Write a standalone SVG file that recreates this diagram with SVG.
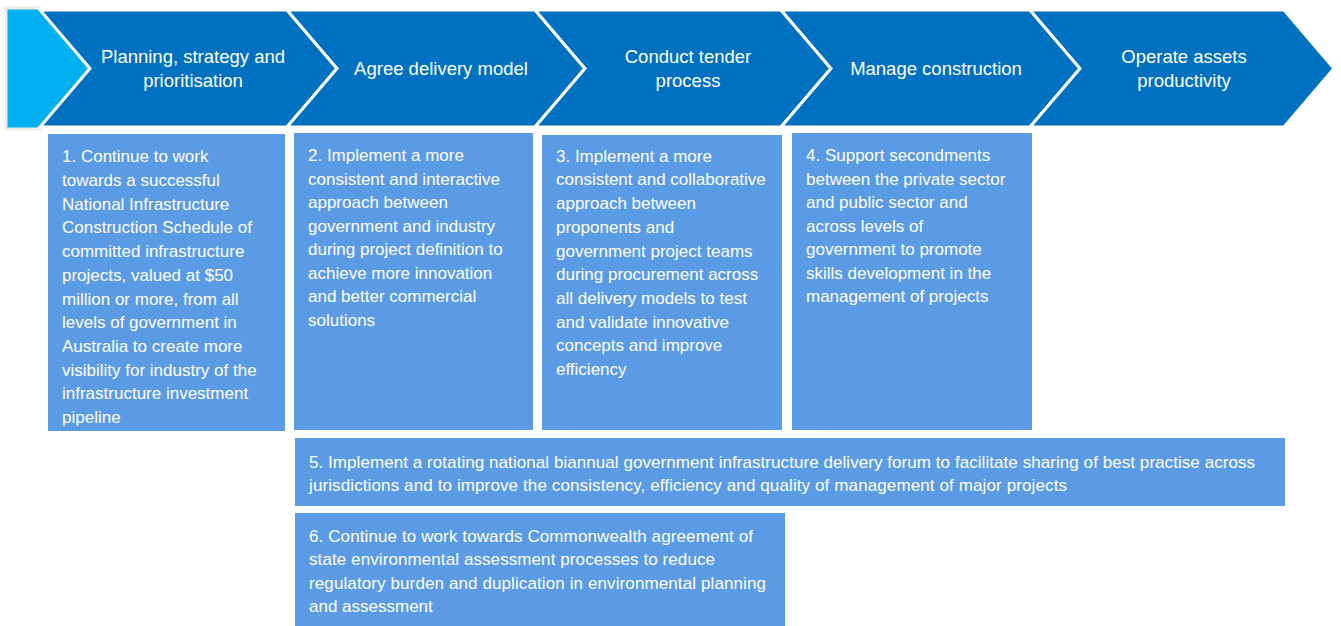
<svg xmlns="http://www.w3.org/2000/svg" width="1341" height="626" viewBox="0 0 1341 626">
<style>
.chev{fill:#0070C0;stroke:#FFFFFF;stroke-width:3;stroke-linejoin:miter}
.hd{font-family:"Liberation Sans",Arial,sans-serif;font-size:18.5px;fill:#FFFFFF;text-anchor:middle}
.box{fill:#5B9BE5}
.bt{font-family:"Liberation Sans",Arial,sans-serif;font-size:17px;fill:#FFFFFF}
</style>
<rect width="1341" height="626" fill="#FFFFFF"/>
<g id="start">
<polygon points="6,8 40,8 90,68.5 40,129 6,129" fill="#00B0F0" stroke="#EEECE1" stroke-width="3"/>
</g>
<g id="connectors"></g>
<g id="step1">
<polygon class="chev" points="40,10 287,10 337,68.5 287,127 40,127 90,68.5"/>
<text class="hd" x="193" y="63">Planning, strategy and</text>
<text class="hd" x="193" y="87">prioritisation</text>
</g>
<g id="step2">
<polygon class="chev" points="287,10 535,10 585,68.5 535,127 287,127 337,68.5"/>
<text class="hd" x="441" y="75">Agree delivery model</text>
</g>
<g id="step3">
<polygon class="chev" points="535,10 781,10 831,68.5 781,127 535,127 585,68.5"/>
<text class="hd" x="688" y="63">Conduct tender</text>
<text class="hd" x="688" y="87">process</text>
</g>
<g id="step4">
<polygon class="chev" points="781,10 1030,10 1080,68.5 1030,127 781,127 831,68.5"/>
<text class="hd" x="936" y="75">Manage construction</text>
</g>
<g id="step5">
<polygon class="chev" points="1030,10 1284,10 1334,68.5 1284,127 1030,127 1080,68.5"/>
<text class="hd" x="1184" y="63">Operate assets</text>
<text class="hd" x="1184" y="87">productivity</text>
</g>
<g id="box1">
<rect class="box" x="48" y="134" width="237" height="297"/>
<text class="bt" x="62" y="162.3">1. Continue to work</text>
<text class="bt" x="62" y="186">towards a successful</text>
<text class="bt" x="62" y="209.7">National Infrastructure</text>
<text class="bt" x="62" y="233.4">Construction Schedule of</text>
<text class="bt" x="62" y="257.1">committed infrastructure</text>
<text class="bt" x="62" y="280.8">projects, valued at $50</text>
<text class="bt" x="62" y="304.5">million or more, from all</text>
<text class="bt" x="62" y="328.2">levels of government in</text>
<text class="bt" x="62" y="351.9">Australia to create more</text>
<text class="bt" x="62" y="375.6">visibility for industry of the</text>
<text class="bt" x="62" y="399.3">infrastructure investment</text>
<text class="bt" x="62" y="423">pipeline</text>
</g>
<g id="box2">
<rect class="box" x="294" y="133" width="239" height="297"/>
<text class="bt" x="308" y="161">2. Implement a more</text>
<text class="bt" x="308" y="184.5">consistent and interactive</text>
<text class="bt" x="308" y="208">approach between</text>
<text class="bt" x="308" y="231.5">government and industry</text>
<text class="bt" x="308" y="255">during project definition to</text>
<text class="bt" x="308" y="278.5">achieve more innovation</text>
<text class="bt" x="308" y="302">and better commercial</text>
<text class="bt" x="308" y="325.5">solutions</text>
</g>
<g id="box3">
<rect class="box" x="542" y="135" width="240" height="295"/>
<text class="bt" x="556" y="161.7">3. Implement a more</text>
<text class="bt" x="556" y="185.4">consistent and collaborative</text>
<text class="bt" x="556" y="209.1">approach between</text>
<text class="bt" x="556" y="232.8">proponents and</text>
<text class="bt" x="556" y="256.5">government project teams</text>
<text class="bt" x="556" y="280.2">during procurement across</text>
<text class="bt" x="556" y="303.9">all delivery models to test</text>
<text class="bt" x="556" y="327.6">and validate innovative</text>
<text class="bt" x="556" y="351.3">concepts and improve</text>
<text class="bt" x="556" y="375">efficiency</text>
</g>
<g id="box4">
<rect class="box" x="792" y="133" width="240" height="297"/>
<text class="bt" x="806" y="161">4. Support secondments</text>
<text class="bt" x="806" y="184.5">between the private sector</text>
<text class="bt" x="806" y="208">and public sector and</text>
<text class="bt" x="806" y="231.5">across levels of</text>
<text class="bt" x="806" y="255">government to promote</text>
<text class="bt" x="806" y="278.5">skills development in the</text>
<text class="bt" x="806" y="302">management of projects</text>
</g>
<g id="box5">
<rect class="box" x="295" y="438" width="990" height="68"/>
<text class="bt" x="309" y="467.5" textLength="946" lengthAdjust="spacing">5. Implement a rotating national biannual government infrastructure delivery forum to facilitate sharing of best practise across</text>
<text class="bt" x="309" y="490.5" textLength="758" lengthAdjust="spacing">jurisdictions and to improve the consistency, efficiency and quality of management of major projects</text>
</g>
<g id="box6">
<rect class="box" x="295" y="513" width="490" height="113"/>
<text class="bt" x="309" y="541.7" textLength="444" lengthAdjust="spacing">6. Continue to work towards Commonwealth agreement of</text>
<text class="bt" x="309" y="565.2" textLength="406" lengthAdjust="spacing">state environmental assessment processes to reduce</text>
<text class="bt" x="309" y="588.7" textLength="457" lengthAdjust="spacing">regulatory burden and duplication in environmental planning</text>
<text class="bt" x="309" y="612.2">and assessment</text>
</g>
</svg>
